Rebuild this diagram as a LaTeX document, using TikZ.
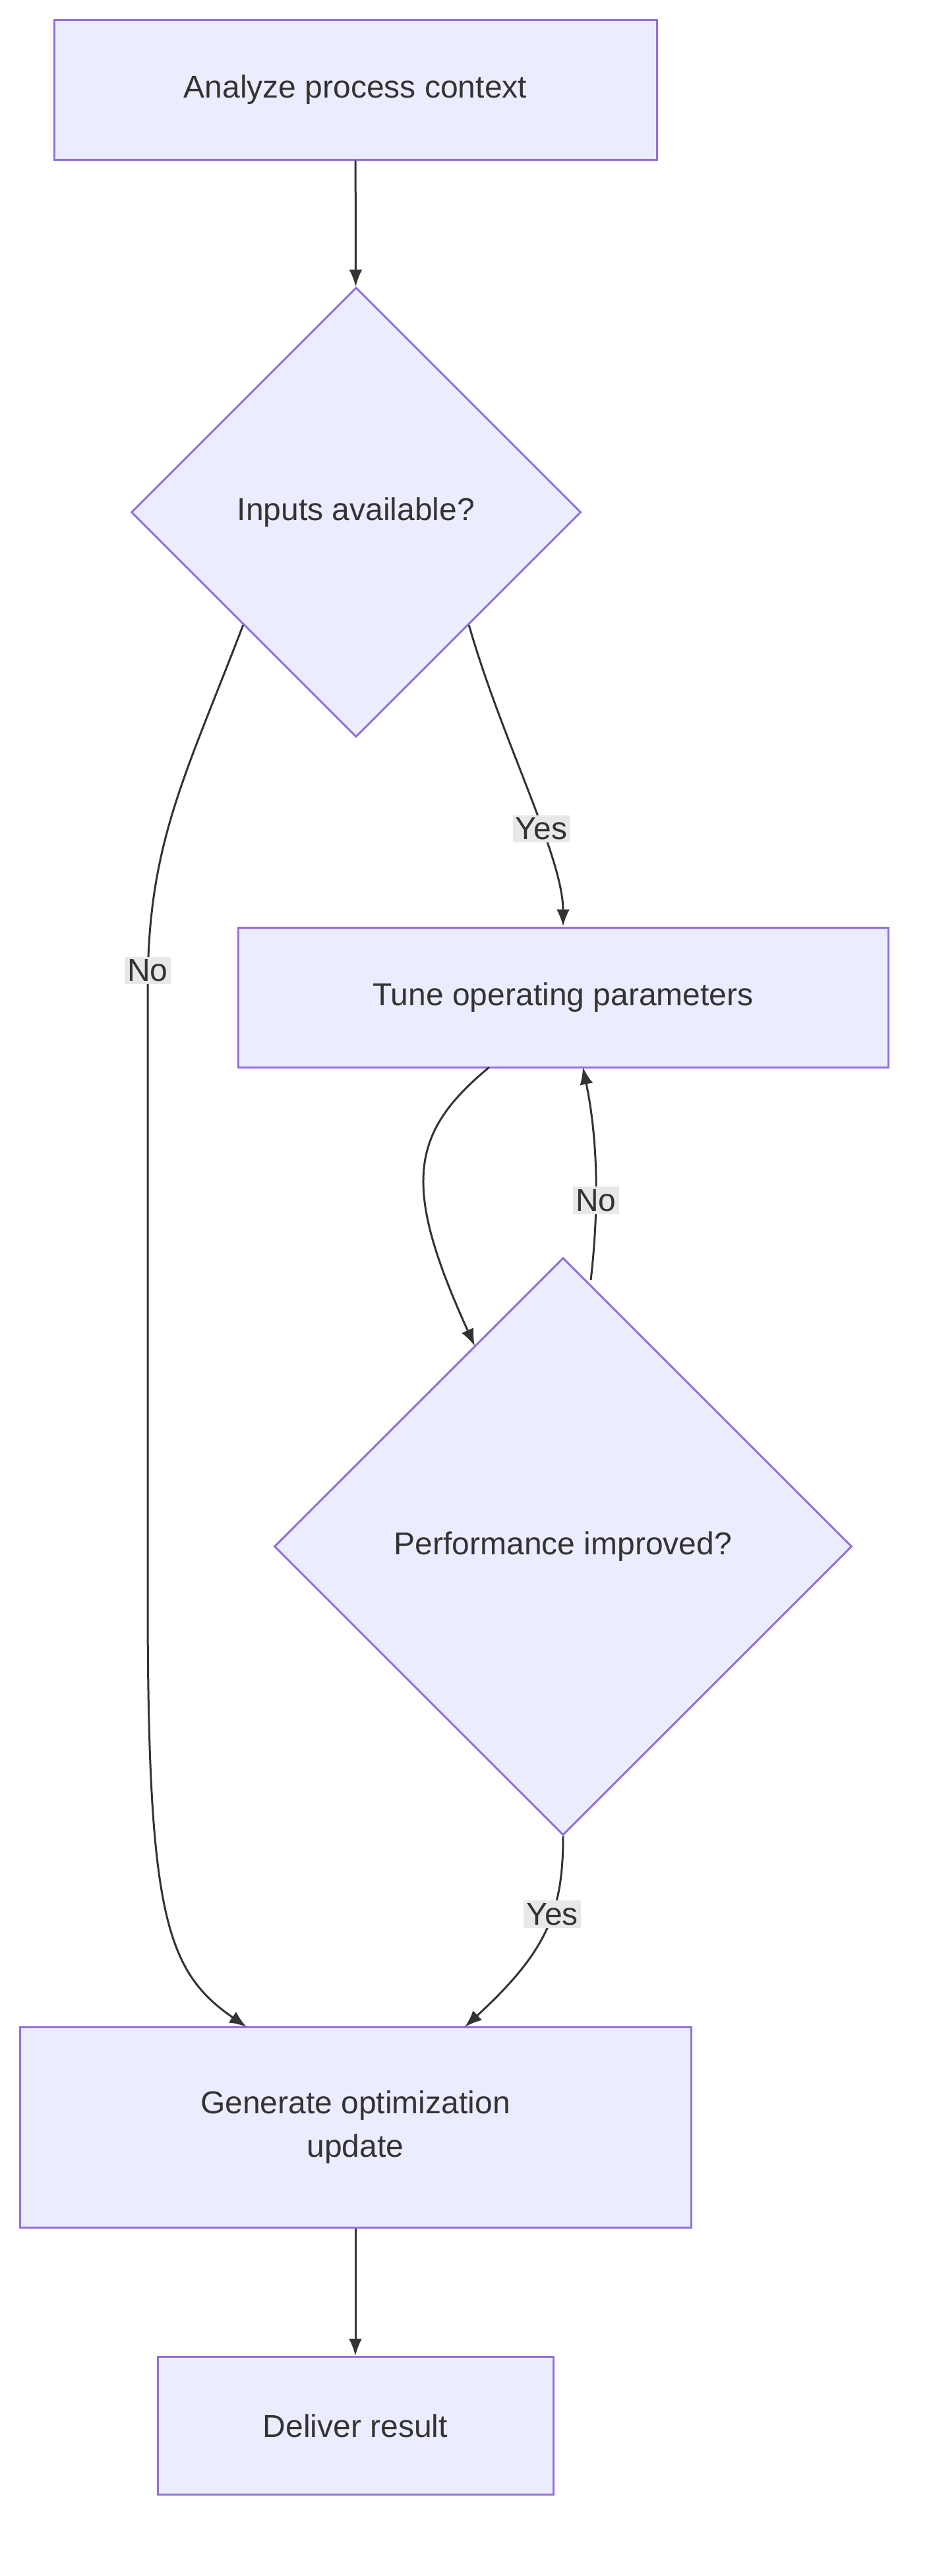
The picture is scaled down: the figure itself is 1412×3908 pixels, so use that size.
\documentclass[tikz,border=0pt]{standalone}
\usepackage{fontspec}
\setmainfont{Liberation Sans}
\usetikzlibrary{shapes.geometric,positioning,arrows.meta}
\definecolor{boxFill}{HTML}{ECECFF}
\definecolor{boxLine}{HTML}{9370DB}
\definecolor{inkText}{HTML}{333333}
\definecolor{labelFill}{HTML}{E8E8E8}
\begin{document}
\begin{tikzpicture}[
    x=1pt, y=-1pt,
    >={Latex[length=26pt,width=20pt]},
    font=\fontsize{48}{66}\selectfont, text=inkText,
    stepBox/.style={draw=boxLine, line width=3pt, fill=boxFill, rectangle, minimum height=212pt, align=center},
    askBox/.style={draw=boxLine, line width=3pt, fill=boxFill, diamond, inner sep=0pt},
    flow/.style={draw=inkText, line width=3pt, ->},
    edgeLabel/.style={fill=labelFill, inner sep=4pt, text=inkText},
  ]
  \useasboundingbox (0,0) rectangle (1412,3908);
  % steps
  \node[stepBox, minimum width=914pt] (analyze) at (539,136) {Analyze process context};
  \node[askBox, minimum width=682pt, minimum height=682pt] (inputs) at (540,777) {Inputs available?};
  \node[stepBox, minimum width=986pt] (tune) at (854,1513) {Tune operating parameters};
  \node[askBox, minimum width=876pt, minimum height=876pt] (perf) at (854,2346) {Performance improved?};
  \node[stepBox, minimum width=1018pt, minimum height=304pt] (generate) at (539,3227) {Generate optimization\\update};
  \node[stepBox, minimum width=600pt, minimum height=209pt] (deliver) at (539,3680) {Deliver result};
  % connectors
  \draw[flow] (analyze) -- (inputs);
  \draw[flow] (inputs.-45) .. controls (760,1120) and (854,1300) .. (tune.north -| perf.north)
    node[pos=0.62, edgeLabel] {Yes};
  \draw[flow] (inputs.-135) .. controls (280,1180) and (224,1280) .. (224,1500)
    -- (224,2420) node[pos=-0.03, edgeLabel] {No}
    .. controls (224,2900) and (250,2990) .. (374,3075);
  \draw[flow] (742,1619) .. controls (620,1720) and (610,1800) .. (720,2042);
  \draw[flow] (896,1942) .. controls (910,1820) and (905,1720) .. (884,1619)
    node[pos=0.35, edgeLabel] {No};
  \draw[flow] (perf.south) .. controls (854,2900) and (830,2960) .. (705,3075)
    node[pos=0.4, edgeLabel] {Yes};
  \draw[flow] (generate) -- (deliver);
\end{tikzpicture}
\end{document}
